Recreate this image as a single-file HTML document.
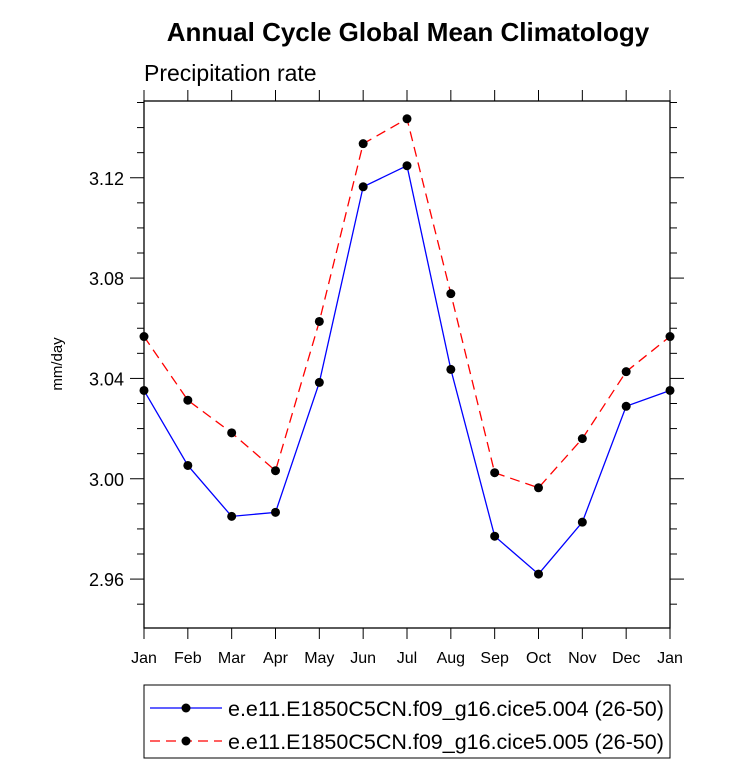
<!DOCTYPE html>
<html><head><meta charset="utf-8"><style>
body{margin:0;background:#fff;}
svg text{font-family:"Liberation Sans",Arial,sans-serif;}
</style></head><body>
<svg id="chart" width="733" height="766">
<text x="408" y="41" text-anchor="middle" font-size="26" font-weight="bold">Annual Cycle Global Mean Climatology</text>
<text x="144" y="81" font-size="23">Precipitation rate</text>
<text transform="translate(62,364) rotate(-90)" text-anchor="middle" font-size="15">mm/day</text>
<g id="axes"></g>
<g id="series"></g>
<g>
<rect x="144" y="685" width="526" height="73" fill="none" stroke="#000" stroke-width="1"/>
<line x1="150" y1="708" x2="222" y2="708" stroke="#0000ff" stroke-width="1.2"/>
<circle cx="186" cy="708" r="4.5" fill="#000"/>
<text x="228" y="716" font-size="21.5">e.e11.E1850C5CN.f09_g16.cice5.004 (26-50)</text>
<line x1="150" y1="741" x2="222" y2="741" stroke="#ff0000" stroke-width="1.2" stroke-dasharray="10,6"/>
<circle cx="186" cy="741" r="4.5" fill="#000"/>
<text x="228" y="749" font-size="21.5">e.e11.E1850C5CN.f09_g16.cice5.005 (26-50)</text>
</g>
</svg>
<script>
const months=["Jan","Feb","Mar","Apr","May","Jun","Jul","Aug","Sep","Oct","Nov","Dec","Jan"];
const yTicks=[2.96,3.00,3.04,3.08,3.12];
const yTickLabels=["2.96","3.00","3.04","3.08","3.12"];
const series004=[3.0352,3.0053,2.9850,2.9866,3.0384,3.1164,3.1248,3.0436,2.9771,2.9620,2.9827,3.0289,3.0352];
const series005=[3.0567,3.0313,3.0183,3.0032,3.0627,3.1336,3.1435,3.0738,3.0024,2.9964,3.0160,3.0427,3.0567];
const L=144,R=670,T=101,B=628,yMin=2.9405,yMax=3.1506;
const xs=i=>L+(R-L)*i/(months.length-1);
const ys=v=>B-(v-yMin)/(yMax-yMin)*(B-T);
const NS="http://www.w3.org/2000/svg";
function mk(tag,attrs,parent){const e=document.createElementNS(NS,tag);for(const k in attrs)e.setAttribute(k,attrs[k]);parent.appendChild(e);return e;}
const ax=document.getElementById('axes');
const frame=mk('rect',{x:L,y:T,width:R-L,height:B-T,fill:'none',stroke:'#000','stroke-width':1.3},ax);


months.forEach((m,i)=>{
  const x=xs(i);
  mk('line',{x1:x,y1:B,x2:x,y2:B+11,stroke:'#000'},ax);
  mk('line',{x1:x,y1:T,x2:x,y2:T-11,stroke:'#000'},ax);
  const t=mk('text',{x:x,y:B+35,'text-anchor':'middle','font-size':16},ax);
  t.textContent=m;
  
  
});
for(let v=2.95;v<=3.15;v+=0.01){
  const y=ys(v);
  if(y<T-0.5||y>B+0.5)continue;
  const major=yTicks.some(t=>Math.abs(t-v)<1e-6);
  const len=major?14:7;
  mk('line',{x1:L-len,y1:y,x2:L,y2:y,stroke:'#000'},ax);
  mk('line',{x1:R,y1:y,x2:R+len,y2:y,stroke:'#000'},ax);
}
yTicks.forEach((v,i)=>{
  const t=mk('text',{x:L-20,y:ys(v)+7,'text-anchor':'end','font-size':18},ax);
  t.textContent=yTickLabels[i];
  
  
});
const sg=document.getElementById('series');
function draw(data,color,dash,name){
  const p=mk('polyline',{points:data.map((v,i)=>xs(i)+','+ys(v)).join(' '),fill:'none',stroke:color,'stroke-width':1.3},sg);
  if(dash)p.setAttribute('stroke-dasharray',dash);
  
  
  data.forEach((v,i)=>{
    const c=mk('circle',{cx:xs(i),cy:ys(v),r:4.5,fill:'#000'},sg);
    
    
  });
}
draw(series004,'#0000ff',null,'series-004');
draw(series005,'#ff0000','10,6','series-005');
</script>
</body></html>
